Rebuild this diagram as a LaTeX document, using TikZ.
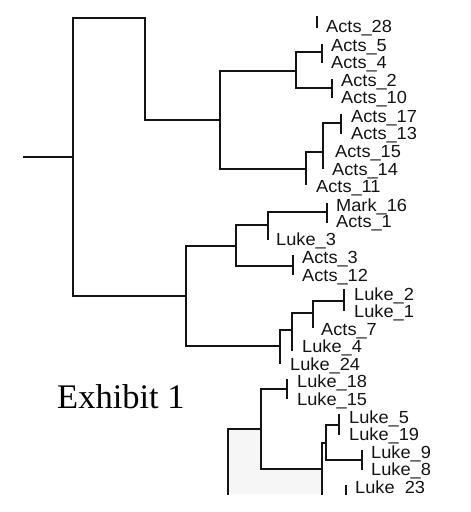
\documentclass[tikz,border=0pt]{standalone}
\usepackage{fontspec}
\setmainfont{Liberation Serif}
\newfontfamily\taxonfont[FakeStretch=1.04]{Liberation Sans}
\usetikzlibrary{calc}
\definecolor{Ink}{HTML}{141414}
\definecolor{Shade}{HTML}{F6F6F6}
\tikzset{
  branch/.style={draw=Ink, line width=1.2pt, line cap=rect},
  taxon/.style={anchor=base west, inner sep=0pt, text=Ink,
    font=\taxonfont\fontsize{17.5}{17.5}\selectfont},
  caption/.style={anchor=base west, inner sep=0pt, text=black,
    font=\fontsize{34.5}{34.5}\selectfont}
}

\begin{document}
\begin{tikzpicture}[x=1pt,y=-1pt]
  \useasboundingbox[fill=white] (0,0) rectangle (471,512);
  \begin{scope}
    \clip (0,0) rectangle (471,494);
    % faint background patch of the scan
    \fill[Shade] (228,429) -- (261,429) -- (261,469) -- (322,469)
      -- (322,494) -- (228,494) -- cycle;

    % junctions (x of the bar, y where the parent edge meets it)
    \coordinate (stub) at (24,157);
    \coordinate (root) at (73,157);
    \coordinate (up) at (145,18);
    \coordinate (acts) at (220,120);
    \coordinate (early) at (296,71);
    \coordinate (early1) at (322,52);
    \coordinate (early2) at (332,88);
    \coordinate (late) at (306,169);
    \coordinate (late1) at (323,152);
    \coordinate (late2) at (341,123);
    \coordinate (mid) at (186,296);
    \coordinate (mixA) at (236,246);
    \coordinate (mixB) at (268,225);
    \coordinate (mark) at (327,212);
    \coordinate (acts3) at (293,266);
    \coordinate (lukeA) at (280,346);
    \coordinate (lukeB) at (292,330);
    \coordinate (lukeC) at (313,313);
    \coordinate (luke12) at (344,301);
    \coordinate (low) at (228,429);
    \coordinate (lowA) at (261,429);
    \coordinate (luke18) at (287,389);
    \coordinate (lowB) at (322,469);
    \coordinate (lowC) at (326,443);
    \coordinate (luke5) at (339,425);
    \coordinate (luke9) at (362,460);

    % vertical bars
    \draw[branch] (73,18) -- (73,296);
    \draw[branch] (145,18) -- (145,120);
    \draw[branch] (220,71) -- (220,169);
    \draw[branch] (296,52) -- (296,88);
    \draw[branch] (322,45) -- (322,62);
    \draw[branch] (332,80) -- (332,97);
    \draw[branch] (306,152) -- (306,184);
    \draw[branch] (323,123) -- (323,168);
    \draw[branch] (341,115) -- (341,133);
    \draw[branch] (317,17) -- (317,27);
    \draw[branch] (186,246) -- (186,346);
    \draw[branch] (236,225) -- (236,266);
    \draw[branch] (268,212) -- (268,239);
    \draw[branch] (327,204) -- (327,222);
    \draw[branch] (293,256) -- (293,274);
    \draw[branch] (280,330) -- (280,363);
    \draw[branch] (292,313) -- (292,350);
    \draw[branch] (313,301) -- (313,327);
    \draw[branch] (344,290) -- (344,310);
    \draw[branch] (228,429) -- (228,500);
    \draw[branch] (261,389) -- (261,469);
    \draw[branch] (287,380) -- (287,398);
    \draw[branch] (322,443) -- (322,500);
    \draw[branch] (326,425) -- (326,460);
    \draw[branch] (339,415) -- (339,434);
    \draw[branch] (362,451) -- (362,469);
    \draw[branch] (346,486) -- (346,500);

    % edges from parent bar to child junction
    \draw[branch] (stub) -- (root);
    \draw[branch] (up -| root) -- (up);
    \draw[branch] (acts -| up) -- (acts);
    \draw[branch] (early -| acts) -- (early);
    \draw[branch] (early1 -| early) -- (early1);
    \draw[branch] (early2 -| early) -- (early2);
    \draw[branch] (late -| acts) -- (late);
    \draw[branch] (late1 -| late) -- (late1);
    \draw[branch] (late2 -| late1) -- (late2);
    \draw[branch] (mid -| root) -- (mid);
    \draw[branch] (mixA -| mid) -- (mixA);
    \draw[branch] (mixB -| mixA) -- (mixB);
    \draw[branch] (mark -| mixB) -- (mark);
    \draw[branch] (acts3 -| mixA) -- (acts3);
    \draw[branch] (lukeA -| mid) -- (lukeA);
    \draw[branch] (lukeB -| lukeA) -- (lukeB);
    \draw[branch] (lukeC -| lukeB) -- (lukeC);
    \draw[branch] (luke12 -| lukeC) -- (luke12);
    \draw[branch] (low) -- (lowA);
    \draw[branch] (luke18 -| lowA) -- (luke18);
    \draw[branch] (lowB -| lowA) -- (lowB);
    \draw[branch] (lowC -| lowB) -- (lowC);
    \draw[branch] (luke5 -| lowC) -- (luke5);
    \draw[branch] (luke9 -| lowC) -- (luke9);

    % taxa
    \node[taxon] (a28) at (326,32) {Acts\_28};
    \node[taxon] (a5) at (331,51) {Acts\_5};
    \node[taxon] (a4) at (331,68) {Acts\_4};
    \node[taxon] (a2) at (341,86) {Acts\_2};
    \node[taxon] (a10) at (341,103) {Acts\_10};
    \node[taxon] (a17) at (351,122) {Acts\_17};
    \node[taxon] (a13) at (351,139) {Acts\_13};
    \node[taxon] (a15) at (335,157) {Acts\_15};
    \node[taxon] (a14) at (332,175) {Acts\_14};
    \node[taxon] (a11) at (316,192) {Acts\_11};
    \node[taxon] (m16) at (336,211) {Mark\_16};
    \node[taxon] (a1) at (336,227) {Acts\_1};
    \node[taxon] (l3) at (276,245) {Luke\_3};
    \node[taxon] (a3) at (302,263) {Acts\_3};
    \node[taxon] (a12) at (302,281) {Acts\_12};
    \node[taxon] (l2) at (354,300) {Luke\_2};
    \node[taxon] (l1) at (354,317) {Luke\_1};
    \node[taxon] (a7) at (321,335) {Acts\_7};
    \node[taxon] (l4) at (302,352) {Luke\_4};
    \node[taxon] (l24) at (290,370) {Luke\_24};
    \node[taxon] (l18) at (297,387) {Luke\_18};
    \node[taxon] (l15) at (297,405) {Luke\_15};
    \node[taxon] (l5) at (349,423) {Luke\_5};
    \node[taxon] (l19) at (349,440) {Luke\_19};
    \node[taxon] (l9) at (371,458) {Luke\_9};
    \node[taxon] (l8) at (371,475) {Luke\_8};
    \node[taxon] (l23) at (355,493) {Luke\_23};
  \end{scope}

  \node[caption] (exhibit) at (57,408) {Exhibit 1};
\end{tikzpicture}
\end{document}
